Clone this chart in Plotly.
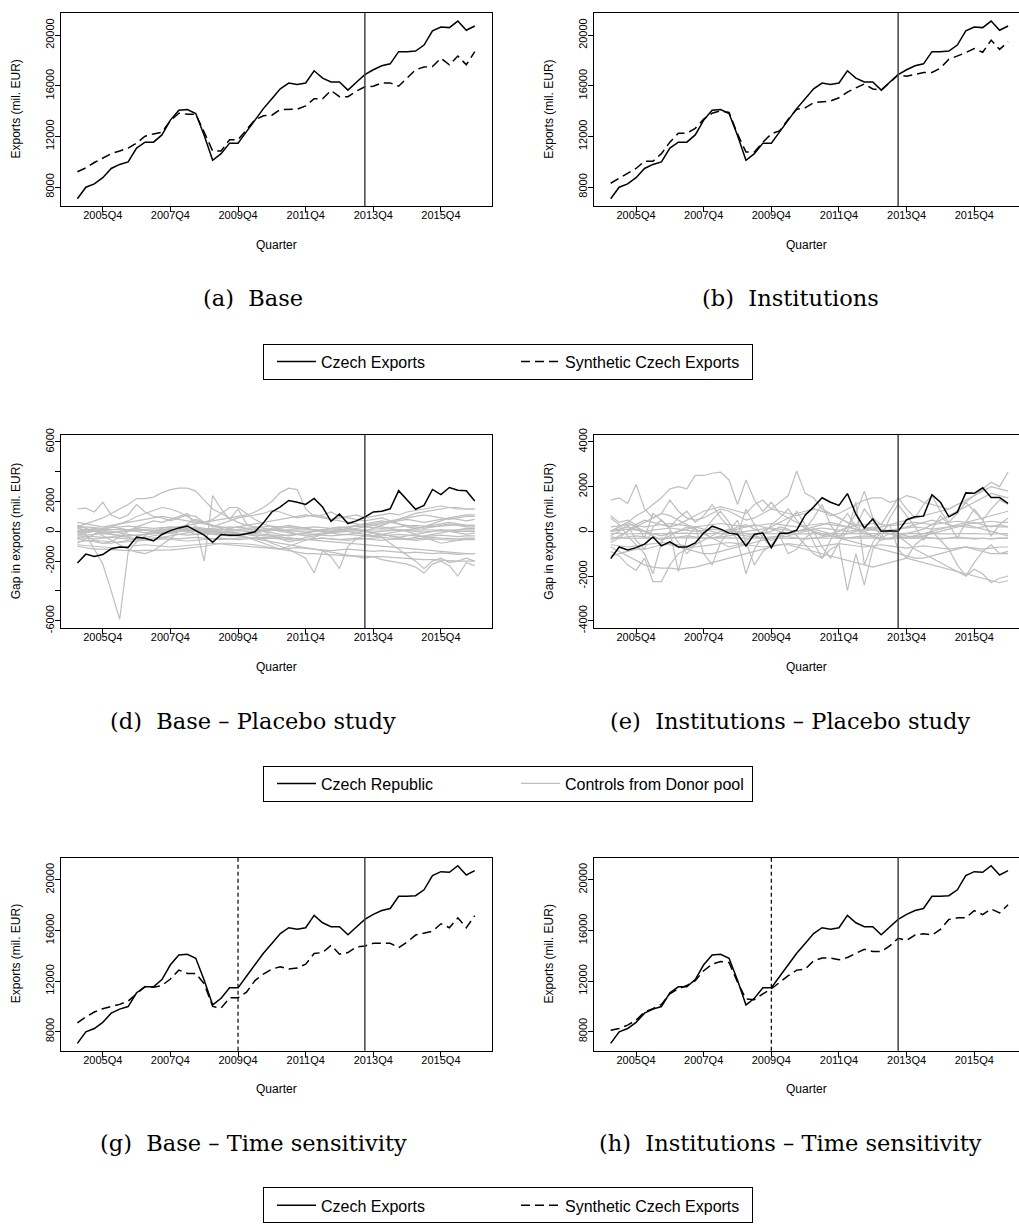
import plotly.graph_objects as go

W, H = 1019, 1230

# ---------------- data ----------------
quarters = [f"{y}Q{q}" for y in range(2005, 2017) for q in range(1, 5)]
x_tick_labels = ["2005Q4", "2007Q4", "2009Q4", "2011Q4", "2013Q4", "2015Q4"]
treatment_quarter = "2013Q3"
backdate_quarter = "2009Q4"

export_ticks = [8000, 12000, 16000, 20000]
gap_ticks_base = [-6000, -4000, -2000, 0, 2000, 4000, 6000]
gap_ticktext_base = ["-6000", "", "-2000", "0", "2000", "", "6000"]
gap_ticks_inst = [-4000, -2000, 0, 2000, 4000]

czech_exports = [7080, 7990, 8250, 8740, 9470, 9790, 9990, 11080,
                 11550, 11550, 12120, 13290, 14070, 14120, 13810, 12070,
                 10120, 10640, 11470, 11470, 12380, 13290, 14200, 14980,
                 15760, 16220, 16100, 16220, 17190, 16610, 16300, 16300,
                 15660, 16280, 16880, 17270, 17580, 17740, 18700, 18700,
                 18750, 19220, 20340, 20650, 20600, 21120, 20390, 20730]

synth_base = [9210, 9520, 9940, 10300, 10640, 10850, 11080, 11470,
              12020, 12200, 12330, 13240, 13840, 13760, 13760, 12330,
              10850, 10850, 11740, 11740, 12540, 13320, 13630, 13680,
              14120, 14150, 14150, 14410, 14980, 14980, 15630, 15140,
              15140, 15580, 15920, 15970, 16230, 16230, 15970, 16620,
              17270, 17480, 17530, 18180, 17660, 18360, 17660, 18700]

synth_inst = [8300, 8690, 9080, 9470, 10040, 10040, 10640, 11550,
              12250, 12250, 12640, 13370, 13840, 14020, 13890, 12200,
              10770, 10770, 11550, 12200, 12460, 13370, 14150, 14260,
              14670, 14720, 14800, 15060, 15500, 15840, 16150, 15750,
              15660, 16250, 16880, 16750, 16930, 17060, 17060, 17400,
              18100, 18360, 18620, 18950, 18650, 19610, 18880, 19480]

synth_base_time = [8700, 9170, 9560, 9820, 10000, 10160, 10420, 11000,
                   11570, 11520, 11650, 12170, 12870, 12610, 12610, 11780,
                   10000, 9870, 10680, 10680, 11130, 12040, 12560, 12950,
                   13140, 12950, 13030, 13340, 14180, 14260, 14830, 14130,
                   14260, 14700, 14780, 14990, 14990, 14990, 14650, 15090,
                   15640, 15820, 15950, 16530, 16220, 17000, 16220, 17180]

synth_inst_time = [8120, 8250, 8520, 8910, 9560, 9820, 10160, 11000,
                   11390, 11650, 12040, 12820, 13340, 13550, 13470, 11910,
                   10600, 10530, 11000, 11390, 11910, 12430, 12870, 12950,
                   13600, 13820, 13820, 13690, 13870, 14180, 14520, 14340,
                   14340, 14780, 15380, 15220, 15640, 15750, 15640, 16080,
                   16870, 17000, 17000, 17570, 17260, 17700, 17390, 18040]

# placebo gaps of donor-pool countries (base specification)
donor_gaps_base = [
    [1500, 1550, 1300, 1950, 1100, 850, 1100, 1800, 1300, 1000, 900, 700, 900, 1100, 1000, 600,
     300, 500, 700, 900, 1000, 1100, 1200, 1400, 1300, 1100, 900, 1000, 1100, 1000, 800, 900,
     1000, 1100, 900, 1000, 1100, 1200, 1100, 1300, 1400, 1500, 1600, 1700, 1600, 1500, 1500, 1500],
    [300, 500, 700, 900, 1200, 1500, 1800, 2200, 2200, 2300, 2600, 2800, 2900, 2900, 2700, 2100,
     1500, 1200, 900, 600, 400, 300, 200, 100, 0, -100, -200, -100, 0, 100, 200, 100,
     0, -100, -200, -300, -200, -100, 0, 100, 200, 300, 400, 500, 600, 500, 400, 400],
    [400, -200, -1200, -2200, -4000, -5900, -1400, -700, -300, 0, 200, 300, 200, 0, -200, -100,
     0, 100, 200, 300, 200, 100, 0, -100, -200, -300, -200, -100, 0, 100, 200, 300,
     200, 100, 0, -100, -200, -300, -400, -300, -200, -100, 0, 100, 0, -100, -200, -100],
    [-500, -300, -600, -800, -700, -400, 0, 300, 500, 700, 600, 800, 1000, 1200, 300, -2000,
     2400, 1500, 800, 1500, 500, 200, 0, -300, -500, -700, -600, -400, -300, -200, -100, 0,
     200, 400, 500, 600, 700, 600, 500, 400, 300, 200, 300, 400, 500, 400, 300, 300],
    [-200, -100, 0, 200, 300, 200, 100, 0, -100, 0, 100, 200, 300, 400, 500, 600,
     700, 800, 900, 1000, 1100, 1300, 1600, 2000, 2600, 2900, 2800, 1500, 1000, 1100, 1300, 1000,
     900, 800, 700, 800, 900, 700, 500, 300, 200, 300, 500, 700, 900, 1000, 1100, 1100],
    [-800, -500, -200, 100, 300, 500, 700, 1000, 1200, 1400, 1600, 1500, 1300, 1000, 700, 600,
     800, 1200, 1600, 1600, 1200, 800, 500, 300, 100, 0, -200, -300, -200, -100, 0, 100,
     200, 100, 0, -100, -200, -300, -400, -500, -400, -300, -200, -100, 0, 100, 200, 200],
    [0, 100, 200, 100, 0, -100, -200, -300, -200, -100, 0, 100, 200, 100, 0, -100,
     -200, -100, 0, -100, -200, -300, -500, -800, -1000, -1200, -1500, -1800, -2800, -1300, -1700, -2500,
     -1000, -500, -300, -100, -400, -800, -1200, -1600, -2000, -2500, -2000, -1800, -2100, -2000, -1800, -2000],
    [200, 100, 0, -100, -200, -300, -400, -500, -600, -500, -400, -300, -200, -100, 0, 100,
     0, -100, -200, -300, -400, -500, -600, -700, -800, -900, -1000, -1100, -1200, -1300, -1400, -1500,
     -1600, -1700, -1800, -1700, -1900, -2000, -2100, -2200, -2400, -2800, -2200, -2000, -2300, -3000, -2100, -2300],
    [-1000, -1100, -1200, -1200, -1250, -1300, -1300, -1300, -1300, -1300, -1300, -1250, -1200, -1150, -1100, -1000,
     -900, -800, -800, -800, -850, -900, -1000, -1100, -1200, -1300, -1400, -1500, -1500, -1550, -1600, -1600,
     -1650, -1650, -1700, -1700, -1700, -1750, -1800, -1800, -1850, -1900, -1900, -1950, -2000, -2000, -2000, -2000],
    [-500, -600, -700, -800, -800, -700, -600, -500, -400, -300, -200, -100, 0, 100, 100, 0,
     -100, -200, -300, -300, -200, -100, 0, 100, 200, 300, 300, 200, 100, 0, -100, -200,
     -200, -100, 0, 200, 400, 600, 800, 1000, 1200, 1300, 1400, 1500, 1600, 1600, 1500, 1500],
    [100, 80, 120, 100, 90, 110, 100, 120, 100, 80, 100, 110, 120, 100, 90, 80,
     100, 110, 100, 90, 100, 120, 110, 100, 90, 100, 110, 100, 120, 100, 90, 100,
     110, 120, 100, 90, 100, 110, 100, 120, 110, 100, 90, 100, 120, 110, 100, 100],
    [0, -50, 50, 0, -100, -50, 0, 50, 100, 50, 0, -50, 0, 50, 0, -50,
     -100, -50, 0, 50, 0, -50, 0, 50, 100, 50, 0, -50, 0, 50, 0, -50,
     0, 50, 0, -50, 0, 50, 100, 50, 0, -50, 0, 50, 0, 0, 50, 0],
    [250, 300, 250, 200, 250, 300, 350, 300, 250, 200, 250, 300, 300, 250, 200, 150,
     200, 250, 300, 250, 200, 250, 300, 350, 300, 250, 200, 250, 300, 250, 200, 250,
     300, 350, 300, 250, 200, 250, 300, 350, 400, 350, 300, 350, 400, 450, 400, 400],
    [-200, -250, -200, -150, -200, -250, -300, -250, -200, -150, -100, -150, -200, -250, -200, -150,
     -200, -250, -300, -250, -200, -150, -200, -250, -300, -250, -200, -150, -200, -250, -300, -250,
     -200, -250, -300, -350, -300, -250, -200, -250, -300, -350, -300, -250, -300, -350, -300, -300],
    [-400, -450, -500, -450, -400, -450, -500, -550, -500, -450, -400, -450, -500, -450, -400, -450,
     -500, -550, -500, -450, -400, -450, -500, -450, -400, -450, -500, -550, -500, -450, -500, -550,
     -500, -450, -500, -550, -600, -550, -500, -550, -600, -550, -500, -550, -600, -600, -550, -550],
    [-700, -650, -600, -650, -700, -750, -700, -650, -600, -550, -500, -550, -600, -650, -600, -550,
     -500, -450, -500, -550, -500, -450, -400, -450, -500, -550, -600, -550, -500, -450, -500, -550,
     -600, -550, -500, -450, -400, -450, -500, -550, -500, -450, -400, -450, -500, -500, -450, -450],
    [-900, -950, -1000, -1050, -1100, -1050, -1000, -950, -900, -950, -1000, -1050, -1000, -950, -900, -850,
     -800, -850, -900, -950, -1000, -1050, -1100, -1150, -1200, -1150, -1100, -1150, -1200, -1250, -1300, -1250,
     -1200, -1250, -1300, -1350, -1300, -1350, -1400, -1450, -1400, -1450, -1500, -1450, -1500, -1550, -1500, -1500],
    [400, 200, 0, -300, -600, -900, -1200, -1400, -1500, -1300, -900, -500, 0, 500, 800, 600,
     400, 200, 0, -200, -400, -600, -800, -1000, -1200, -1000, -800, -600, -400, -200, 0, 200,
     300, 400, 500, 400, 300, 200, 100, 0, -200, -400, -600, -800, -700, -600, -500, -500],
    [600, 500, 400, 300, 400, 500, 600, 700, 800, 900, 1000, 900, 800, 700, 600, 500,
     400, 300, 200, 300, 400, 500, 600, 700, 800, 900, 1000, 1100, 1000, 900, 800, 700,
     600, 500, 400, 500, 600, 700, 800, 900, 1000, 1100, 1000, 900, 800, 900, 1000, 1000],
    [-300, -300, -350, -400, -400, -350, -300, -250, -200, -150, -100, -50, 0, 50, 100, 50,
     0, -50, -100, -150, -200, -250, -300, -350, -400, -450, -500, -550, -600, -650, -700, -750,
     -800, -850, -900, -950, -1000, -1050, -1100, -1150, -1200, -1250, -1300, -1350, -1400, -1450, -1500, -1500],
    [-100, 0, 100, 0, -100, 0, 100, 200, 100, 0, -100, 0, 100, 200, 300, 200,
     100, 0, -100, -200, -100, 0, 100, 200, 300, 400, 300, 200, 100, 0, -100, 0,
     100, 200, 300, 400, 500, 600, 700, 800, 700, 600, 700, 800, 900, 800, 700, 800],
]

# placebo gaps of donor-pool countries (institutions specification)
donor_gaps_inst = [
    [1400, 1500, 1250, 2100, 1000, 600, 800, 1400, 900, 600, 500, 600, 800, 1000, 900, 700,
     500, 600, 800, 1000, 900, 800, 700, 800, 1000, 900, 700, 800, 1000, 1200, 1400, 1500,
     1500, 1300, 1400, 1600, 1500, 1300, 1200, 1100, 1000, 1200, 1400, 1600, 1800, 2000, 1900, 1800],
    [0, 200, 400, 700, 900, 1200, 1500, 1900, 2000, 1900, 2500, 2500, 2600, 2650, 2300, 1200,
     2300, 1400, 900, 1300, 800, 600, 400, 200, 0, -200, -100, 0, 200, 100, -100, -200,
     -100, 0, 100, 200, 300, 400, 500, 400, 300, 200, 300, 400, 300, 200, 300, 200],
    [-500, -300, 0, 300, 500, 400, 300, 200, 300, 500, 700, 900, 1000, 1100, 1000, 900,
     800, 1200, 1400, 1000, 1300, 1600, 2700, 1700, 1500, 1000, 800, 600, 400, 300, 200, 100,
     0, -100, -200, -300, -200, -100, 0, 100, 200, 300, 400, 500, 600, 700, 800, 900],
    [0, 100, 200, 100, 0, -100, -200, -100, 0, 100, 200, 100, 0, -100, 0, 100,
     200, 300, 200, 100, 0, -100, 0, 100, 200, 300, 400, 300, 200, 100, 0, 100,
     200, 300, 400, 500, 600, 700, 800, 900, 1000, 1200, 1300, 1600, 1900, 2200, 2000, 2650],
    [-900, -1100, -1500, -1750, -1200, -2250, -2250, -1500, -1000, -800, -600, -400, -200, 0, 100, 0,
     -100, -200, -300, -400, -300, -200, -100, 0, 100, 0, -100, -200, -100, 0, 100, 200,
     100, 0, -100, -200, -300, -200, -100, 0, 100, 200, 300, 200, 100, 0, -100, -200],
    [0, 200, 400, 200, 0, -200, -400, -200, 0, 200, 100, -100, -300, -200, 0, 200,
     300, 100, -100, 0, 200, 100, -200, -600, -1000, -1200, -800, -600, -2650, -1000, -2400, -800,
     -300, -100, -200, -500, -800, -1000, -1200, -1400, -1600, -1800, -2000, -1700, -1900, -2300, -2100, -2000],
    [-700, -900, -1100, -1300, -1500, -1600, -1650, -1650, -1700, -1650, -1600, -1500, -1400, -1300, -1200, -1100,
     -1000, -900, -800, -700, -600, -600, -700, -800, -900, -1000, -1100, -1200, -1300, -1400, -1500, -1600,
     -1500, -1400, -1300, -1200, -1300, -1400, -1500, -1600, -1700, -1800, -1900, -2000, -2100, -2200, -2300, -2200],
    [600, 300, -200, -600, -1000, -1900, -500, 0, -1800, -300, 200, -1000, -1500, -500, 0, 500,
     -500, -1500, -900, -600, -200, -1000, -800, -300, 0, -700, -1200, -500, 0, 1300, -1500, -500,
     0, 300, -800, -1200, -600, -300, 0, -400, -800, -1500, -2000, -1400, -900, -600, -1000, -900],
    [-400, -200, 0, 200, 400, 600, 800, 700, 500, 300, 100, -100, -300, -500, -700, -600,
     -400, -200, 0, 200, 400, 600, 800, 900, 1000, 900, 800, 600, 400, 200, 0, -200,
     -400, -300, -200, -100, 0, 100, 300, 500, 700, 900, 1100, 1300, 1500, 1700, 1600, 1500],
    [-1100, -1000, -900, -800, -800, -700, -600, -600, -700, -800, -900, -1000, -1000, -900, -800, -700,
     -600, -500, -400, -300, -200, -100, 0, 100, 0, -100, -200, -300, -400, -500, -600, -700,
     -800, -900, -1000, -1100, -1200, -1200, -1100, -1000, -900, -800, -700, -800, -900, -1000, -1000, -1000],
    [-100, -80, -120, -100, -90, -110, -100, -120, -100, -80, -100, -110, -120, -100, -90, -80,
     -100, -110, -100, -90, -100, -120, -110, -100, -90, -100, -110, -100, -120, -100, -90, -100,
     -110, -120, -100, -90, -100, -110, -100, -120, -110, -100, -90, -100, -120, -110, -100, -100],
    [0, 50, 100, 50, 0, 50, 100, 150, 100, 50, 0, 50, 100, 50, 0, -50,
     0, 50, 100, 150, 100, 50, 0, 50, 100, 150, 100, 50, 0, 50, 100, 50,
     0, 50, 100, 150, 200, 150, 100, 150, 200, 250, 200, 150, 200, 250, 200, 200],
    [-250, -300, -250, -200, -250, -300, -350, -300, -250, -200, -250, -300, -300, -250, -200, -150,
     -200, -250, -300, -250, -200, -250, -300, -350, -300, -250, -200, -250, -300, -250, -200, -250,
     -300, -350, -300, -250, -200, -250, -300, -350, -300, -250, -300, -350, -300, -350, -300, -300],
    [200, 250, 300, 250, 200, 250, 300, 350, 300, 250, 200, 250, 300, 350, 300, 250,
     200, 250, 300, 350, 300, 250, 200, 250, 300, 350, 300, 250, 200, 250, 300, 350,
     300, 250, 300, 350, 400, 350, 300, 350, 400, 450, 400, 350, 400, 450, 400, 400],
    [-600, -650, -700, -650, -600, -550, -500, -550, -600, -650, -700, -650, -600, -550, -500, -550,
     -600, -650, -700, -650, -600, -550, -600, -650, -700, -650, -600, -550, -600, -650, -700, -650,
     -600, -650, -700, -750, -700, -650, -700, -750, -800, -750, -700, -750, -800, -750, -700, -700],
    [-300, -280, -320, -300, -290, -310, -300, -320, -300, -280, -300, -310, -320, -300, -290, -280,
     -300, -310, -300, -290, -300, -320, -310, -300, -290, -300, -310, -300, -320, -300, -290, -300,
     -310, -320, -300, -290, -300, -310, -300, -320, -310, -300, -290, -300, -320, -310, -300, -300],
    [700, 400, 500, 300, -300, 800, 500, 200, 600, 900, 400, 700, 1200, 600, 200, -400,
     -1900, -800, -200, 300, 600, 1000, 500, 100, 600, 1200, 300, -300, 200, 800, 1800, 600,
     300, 900, 1500, 1000, 600, 1200, 1600, 900, 400, 800, 1300, 900, 500, 1000, 1400, 1200],
    [-200, 0, 300, -400, -800, 200, 500, 100, -500, -1000, -600, 0, 500, 900, 400, -200,
     1000, 300, -300, -700, -200, 400, 900, 300, -500, -1200, -400, 300, 800, 200, 1000, 500,
     -300, 600, 1200, 700, 200, -400, 100, 700, 300, -300, 400, 1000, 500, -200, 300, 600],
]

# Gap of Czech Republic = actual - synthetic
gap_base = [c - s for c, s in zip(czech_exports, synth_base)]
gap_inst = [c - s for c, s in zip(czech_exports, synth_inst)]

# ---------------- styling ----------------
SANS = "Liberation Sans, Arial, sans-serif"
SERIF = "DejaVu Serif, serif"
GRAY = "#bebebe"

col_px = [(61, 492), (594.3, 1019)]
row_px = [(6, 201), (432, 627), (859, 1054)]
q_per_px = 50.98 / 431.0
x_left = -1.94

def xdom(c):
    a, b = col_px[c]
    return [a / W, b / W]

def ydom(r):
    t, b = row_px[r]
    return [1 - b / H, 1 - t / H]

def xrange_(c):
    a, b = col_px[c]
    return [x_left, x_left + (b - a) * q_per_px]

fig = go.Figure()

panels = [
    (1, 0, 0, [6500, 21760], export_ticks, [str(v) for v in export_ticks], "Exports (mil. EUR)"),
    (2, 1, 0, [6500, 21760], export_ticks, [str(v) for v in export_ticks], "Exports (mil. EUR)"),
    (3, 0, 1, [-6480, 6480], gap_ticks_base, gap_ticktext_base, "Gap in exports (mil. EUR)"),
    (4, 1, 1, [-4320, 4320], gap_ticks_inst, [str(v) for v in gap_ticks_inst], "Gap in exports (mil. EUR)"),
    (5, 0, 2, [6500, 21760], export_ticks, [str(v) for v in export_ticks], "Exports (mil. EUR)"),
    (6, 1, 2, [6500, 21760], export_ticks, [str(v) for v in export_ticks], "Exports (mil. EUR)"),
]

layout = {}
annotations = []
shapes = []
for idx, c, r, yr, tv, tt, ytitle in panels:
    sx = "" if idx == 1 else str(idx)
    layout[f"xaxis{sx}"] = dict(
        domain=xdom(c), anchor=f"y{sx}", type="category", range=xrange_(c),
        tickmode="array", tickvals=x_tick_labels, ticktext=x_tick_labels,
        ticks="outside", ticklen=5, tickwidth=1, tickcolor="black",
        showline=True, linecolor="black", linewidth=1, mirror=True,
        showgrid=False, zeroline=False, ticklabelstandoff=-6,
        tickfont=dict(family=SANS, size=11, color="black"),
    )
    layout[f"yaxis{sx}"] = dict(
        domain=ydom(r), anchor=f"x{sx}", range=yr,
        tickmode="array", tickvals=tv, ticktext=tt, tickangle=-90,
        ticks="outside", ticklen=5, tickwidth=1, tickcolor="black",
        showline=True, linecolor="black", linewidth=1, mirror=(c == 0),
        showgrid=False, zeroline=False, ticklabelstandoff=-3,
        tickfont=dict(family=SANS, size=11, color="black"),
    )
    xa, xb = col_px[c]
    yt, yb = row_px[r]
    annotations.append(dict(text="Quarter", xref="paper", yref="paper",
                            x=(xa + min(xb, xa + 431)) / 2 / W, y=1 - (yb + 39) / H,
                            xanchor="center", yanchor="middle", showarrow=False,
                            font=dict(family=SANS, size=12, color="black")))
    annotations.append(dict(text=ytitle, xref="paper", yref="paper",
                            x=(xa - 45) / W, y=1 - (yt + yb) / 2 / H, textangle=-90,
                            xanchor="center", yanchor="middle", showarrow=False,
                            font=dict(family=SANS, size=12, color="black")))
    shapes.append(dict(type="line", xref=f"x{sx}", yref=f"y{sx} domain",
                       x0=treatment_quarter, x1=treatment_quarter, y0=0, y1=1,
                       line=dict(color="#444444", width=1.5)))
    if r == 2:
        shapes.append(dict(type="line", xref=f"x{sx}", yref=f"y{sx} domain",
                           x0=backdate_quarter, x1=backdate_quarter, y0=0, y1=1,
                           line=dict(color="black", width=1.2, dash="4px,3px")))

SOLID = dict(color="black", width=1.5)
DASH = dict(color="black", width=1.5, dash="9px,5px")

for ax, synth, show in [("", synth_base, True), ("2", synth_inst, False)]:
    fig.add_trace(go.Scatter(x=quarters, y=czech_exports, mode="lines", line=SOLID,
                             xaxis=f"x{ax}", yaxis=f"y{ax}", name="Czech Exports",
                             legend="legend", showlegend=show, legendrank=1))
    fig.add_trace(go.Scatter(x=quarters, y=synth, mode="lines", line=DASH,
                             xaxis=f"x{ax}", yaxis=f"y{ax}", name="Synthetic Czech Exports",
                             legend="legend", showlegend=show, legendrank=2))

for ax, donors, gap, show in [("3", donor_gaps_base, gap_base, True), ("4", donor_gaps_inst, gap_inst, False)]:
    for k, d in enumerate(donors):
        fig.add_trace(go.Scatter(x=quarters, y=d, mode="lines", line=dict(color=GRAY, width=1.2),
                                 xaxis=f"x{ax}", yaxis=f"y{ax}", name="Controls from Donor pool",
                                 legend="legend2", showlegend=(show and k == 0), legendrank=2))
    fig.add_trace(go.Scatter(x=quarters, y=gap, mode="lines", line=SOLID,
                             xaxis=f"x{ax}", yaxis=f"y{ax}", name="Czech Republic",
                             legend="legend2", showlegend=show, legendrank=1))

for ax, synth, show in [("5", synth_base_time, True), ("6", synth_inst_time, False)]:
    fig.add_trace(go.Scatter(x=quarters, y=czech_exports, mode="lines", line=SOLID,
                             xaxis=f"x{ax}", yaxis=f"y{ax}", name="Czech Exports",
                             legend="legend3", showlegend=show, legendrank=1))
    fig.add_trace(go.Scatter(x=quarters, y=synth, mode="lines", line=DASH,
                             xaxis=f"x{ax}", yaxis=f"y{ax}", name="Synthetic Czech Exports",
                             legend="legend3", showlegend=show, legendrank=2))

captions = [("(a)\u00a0\u00a0Base", 0, 0), ("(b)\u00a0\u00a0Institutions", 1, 0),
            ("(d)\u00a0\u00a0Base – Placebo study", 0, 1), ("(e)\u00a0\u00a0Institutions – Placebo study", 1, 1),
            ("(g)\u00a0\u00a0Base – Time sensitivity", 0, 2), ("(h)\u00a0\u00a0Institutions – Time sensitivity", 1, 2)]
cap_x = [253, 790]
cap_y = [294, 721, 1147]
for txt, c, r in captions:
    annotations.append(dict(text=txt, xref="paper", yref="paper",
                            x=cap_x[c] / W, y=1 - cap_y[r] / H,
                            xanchor="center", yanchor="middle", showarrow=False,
                            font=dict(family=SERIF, size=22.5, color="black")))

def legend_cfg(top):
    return dict(x=263 / W, y=1 - top / H, xanchor="left", yanchor="top",
                orientation="h", bordercolor="black", borderwidth=1, bgcolor="white",
                font=dict(family=SANS, size=16, color="black"),
                entrywidth=182, entrywidthmode="pixels", itemwidth=39, indentation=8)

fig.update_layout(
    width=W, height=H, margin=dict(l=0, r=0, t=0, b=0),
    paper_bgcolor="white", plot_bgcolor="white",
    legend=legend_cfg(340), legend2=legend_cfg(766), legend3=legend_cfg(1192),
    annotations=annotations, shapes=shapes, **layout,
)

fig.write_html("out.html")
